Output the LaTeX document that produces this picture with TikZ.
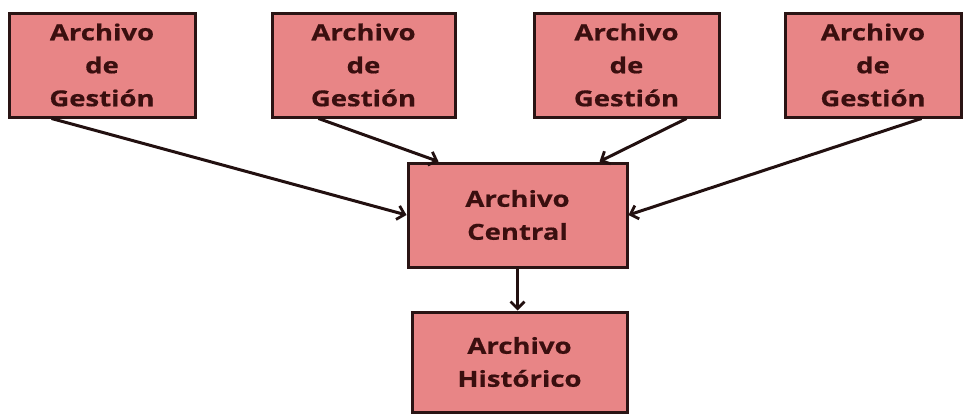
\documentclass[tikz,border=0pt]{standalone}
\usepackage{fontspec}
\setmainfont{Open Sans}[FakeStretch=1.25,FakeBold=0.6]
\usetikzlibrary{arrows.meta}
\definecolor{boxfill}{HTML}{E88586}
\definecolor{boxline}{HTML}{2A1414}
\definecolor{boxtext}{HTML}{3A0F0F}
\begin{document}
\begin{tikzpicture}[x=1pt,y=-1pt,
  archbox/.style={draw=boxline, line width=3pt, fill=boxfill, text=boxtext,
    inner sep=0pt, align=center, minimum height=104pt,
    font=\fontsize{22}{33}\selectfont\bfseries},
  link/.style={draw=boxline!80!black, line width=3pt,
    -{Straight Barb[length=7pt,width=14pt,line width=2.8pt]}}]
\useasboundingbox (0,0) rectangle (963,413);
\node[archbox, minimum width=186pt] (g1) at (102,65) {Archivo\\de\\Gestión};
\node[archbox, minimum width=183pt] (g2) at (363.5,65) {Archivo\\de\\Gestión};
\node[archbox, minimum width=185pt] (g3) at (626.5,65) {Archivo\\de\\Gestión};
\node[archbox, minimum width=176pt] (g4) at (873,65) {Archivo\\de\\Gestión};
\node[archbox, minimum width=219pt] (c) at (517.5,215) {Archivo\\Central};
\node[archbox, minimum width=215pt, minimum height=100pt] (h) at (519.5,362) {Archivo\\Histórico};
\draw[link] ([xshift=44pt]g1.south west) -- (c.west);
\draw[link] ([xshift=48pt]g2.south west) -- ([xshift=32pt]c.north west);
\draw[link] ([xshift=-34pt]g3.south east) -- ([xshift=-29pt]c.north east);
\draw[link] ([xshift=-41pt]g4.south east) -- (c.east);
\draw[link] (c.south) -- (c.south |- h.north);
\end{tikzpicture}
\end{document}
